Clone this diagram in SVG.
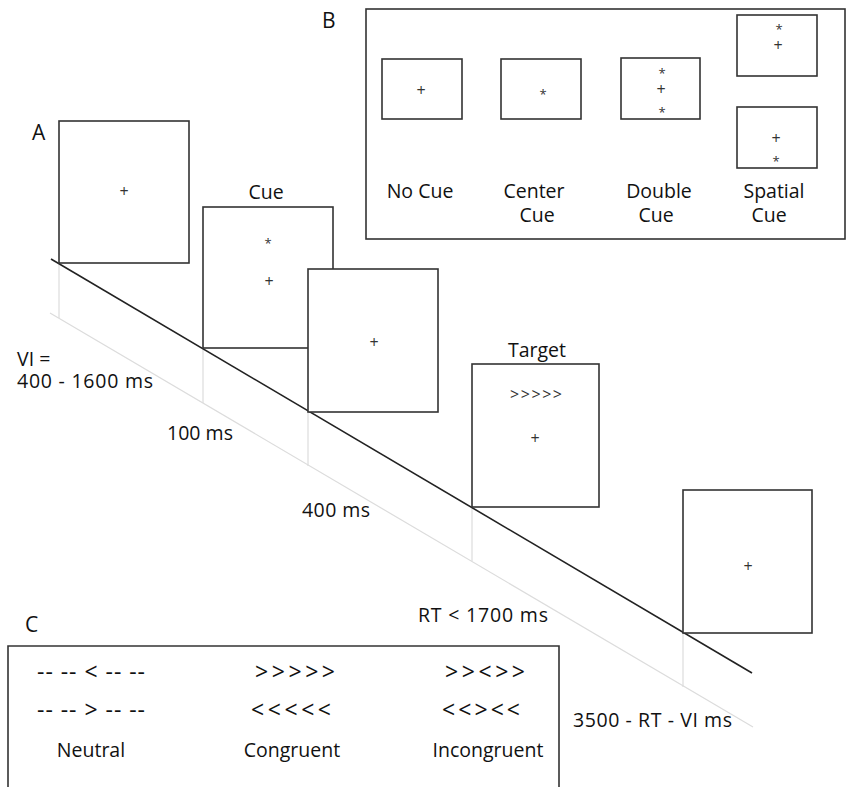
<svg xmlns="http://www.w3.org/2000/svg" width="848" height="787" viewBox="0 0 848 787">
<style>
.frame{fill:#fff;stroke:#333;stroke-width:1.6}
.box{fill:none;stroke:#333;stroke-width:1.6}
.axis{stroke:#222;stroke-width:1.6;fill:none}
.guide{stroke:#dcdcdc;stroke-width:1.2;fill:none}
text{font-family:"Open Sans","Noto Sans","DejaVu Sans",sans-serif;fill:#111}
.lbl{font-size:19.5px}
.big{font-size:21px}
.plus{font-size:16px;text-anchor:middle;fill:#333}
.star{font-size:13px;text-anchor:middle;fill:#333}
.mid{text-anchor:middle}
.arr{font-size:23px}
.tarr{font-size:16px;fill:#333}
</style>
<rect width="848" height="787" fill="#fff"/>
<g id="connectors">
<line class="guide" x1="50" y1="313" x2="753" y2="727"/>
<line class="guide" x1="59" y1="263" x2="59" y2="318"/>
<line class="guide" x1="203" y1="348" x2="203" y2="403"/>
<line class="guide" x1="308" y1="412" x2="308" y2="466"/>
<line class="guide" x1="472" y1="507" x2="472" y2="561"/>
<line class="guide" x1="683" y1="633" x2="683" y2="687"/>
<line class="axis" x1="51" y1="259" x2="752" y2="673"/>
</g>
<g id="labelA"><text class="big" x="32" y="140">A</text></g>
<g id="frame1">
<rect class="frame" x="59" y="121" width="130" height="142"/>
<text class="plus" x="124" y="197">+</text>
</g>
<g id="cueframe">
<text class="lbl mid" x="266" y="199">Cue</text>
<rect class="frame" x="203" y="207" width="130" height="141"/>
<text class="star" x="268" y="248">*</text>
<text class="plus" x="269" y="287">+</text>
</g>
<g id="frame3">
<rect class="frame" x="308" y="269" width="130" height="143"/>
<text class="plus" x="374" y="348">+</text>
</g>
<g id="targetframe">
<text class="lbl mid" x="537" y="357">Target</text>
<rect class="frame" x="472" y="364" width="127" height="143"/>
<text class="tarr" x="510" y="400" textLength="52" lengthAdjust="spacing">&gt;&gt;&gt;&gt;&gt;</text>
<text class="plus" x="535" y="444">+</text>
</g>
<g id="frame5">
<rect class="frame" x="683" y="490" width="129" height="143"/>
<text class="plus" x="748" y="572">+</text>
</g>
<g id="timelabels">
<text class="lbl" x="17" y="366">VI =</text>
<text class="lbl" x="17" y="388" textLength="136" lengthAdjust="spacing">400 - 1600 ms</text>
<text class="lbl" x="167" y="440" textLength="66" lengthAdjust="spacing">100 ms</text>
<text class="lbl" x="302" y="517" textLength="68" lengthAdjust="spacing">400 ms</text>
<text class="lbl" x="418" y="622" textLength="130" lengthAdjust="spacing">RT &lt; 1700 ms</text>
<text class="lbl" x="573" y="727" textLength="159" lengthAdjust="spacing">3500 - RT - VI ms</text>
</g>
<g id="panelB">
<text class="big" x="322" y="28">B</text>
<rect class="box" x="366" y="9" width="479" height="230"/>
<g id="nocue">
<rect class="frame" x="382" y="59" width="80" height="60"/>
<text class="plus" x="421" y="96">+</text>
<text class="lbl mid" x="420" y="198">No Cue</text>
</g>
<g id="centercue">
<rect class="frame" x="501" y="59" width="80" height="60"/>
<text class="star" x="543" y="99">*</text>
<text class="lbl mid" x="534" y="198">Center</text>
<text class="lbl mid" x="537" y="222">Cue</text>
</g>
<g id="doublecue">
<rect class="frame" x="621" y="58" width="79" height="61"/>
<text class="star" x="662" y="78">*</text>
<text class="plus" x="661" y="95">+</text>
<text class="star" x="662" y="117">*</text>
<text class="lbl mid" x="659" y="198">Double</text>
<text class="lbl mid" x="656" y="222">Cue</text>
</g>
<g id="spatialcue">
<rect class="frame" x="737" y="15" width="80" height="61"/>
<text class="star" x="779" y="34">*</text>
<text class="plus" x="778" y="51">+</text>
<rect class="frame" x="737" y="107" width="80" height="61"/>
<text class="plus" x="776" y="144">+</text>
<text class="star" x="776" y="166">*</text>
<text class="lbl mid" x="774" y="198">Spatial</text>
<text class="lbl mid" x="769" y="222">Cue</text>
</g>
</g>
<g id="panelC">
<text class="big" x="25" y="632">C</text>
<path class="box" d="M8,787 V646 H559 V787"/>
<g id="neutral">
<text class="arr" x="37" y="680" textLength="108" lengthAdjust="spacing">-- -- &lt; -- --</text>
<text class="arr" x="37" y="718" textLength="108" lengthAdjust="spacing">-- -- &gt; -- --</text>
<text class="lbl mid" x="91" y="757">Neutral</text>
</g>
<g id="congruent">
<text class="arr" x="255" y="680" textLength="80" lengthAdjust="spacing">&gt;&gt;&gt;&gt;&gt;</text>
<text class="arr" x="251" y="718" textLength="80" lengthAdjust="spacing">&lt;&lt;&lt;&lt;&lt;</text>
<text class="lbl mid" x="292" y="757">Congruent</text>
</g>
<g id="incongruent">
<text class="arr" x="445" y="680" textLength="80" lengthAdjust="spacing">&gt;&gt;&lt;&gt;&gt;</text>
<text class="arr" x="442" y="718" textLength="78" lengthAdjust="spacing">&lt;&lt;&gt;&lt;&lt;</text>
<text class="lbl mid" x="488" y="757">Incongruent</text>
</g>
</g>
</svg>
